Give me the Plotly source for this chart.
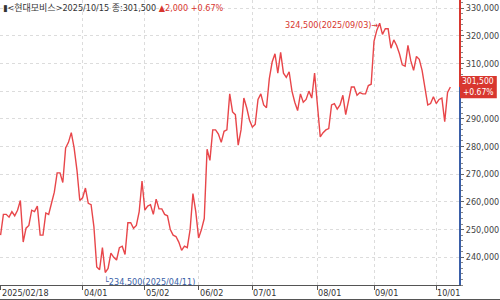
import pandas as pd
import plotly.graph_objects as go

# ---- data ----
holidays = ["2025-03-03", "2025-05-01", "2025-05-05", "2025-05-06", "2025-06-03",
            "2025-06-06", "2025-08-15", "2025-10-03", "2025-10-06", "2025-10-07",
            "2025-10-08", "2025-10-09"]
dates = [d.strftime("%Y-%m-%d") for d in pd.bdate_range("2025-02-18", "2025-10-15")
         if d.strftime("%Y-%m-%d") not in holidays]

close = [
    248000, 255500, 255500, 254500, 256500, 255000, 257000, 260500, 245500, 250500,
    251500, 257000, 256500, 258500, 248000, 248000, 256000, 255500, 259500, 263500,
    270500, 270500, 267000, 279500, 281500, 285000, 279500, 271500, 260500, 261500,
    265000, 259500, 259000, 251000, 236500, 235500, 243500, 234500, 236000, 241500,
    240000, 239000, 243500, 244000, 241000, 252500, 252500, 250500, 251500, 256500,
    267500, 257000, 258500, 259000, 255500, 261000, 257500, 257500, 255500, 255000,
    250000, 248000, 247500, 245500, 242500, 244000, 243500, 250000, 263000, 256500,
    247000, 250000, 254000, 279000, 275000, 286000, 286000, 284500, 281500, 285500,
    286000, 299000, 292500, 291500, 280500, 286000, 297500, 294000, 289500, 287000,
    288000, 297000, 299000, 295000, 294000, 304500, 310500, 313500, 306500, 314000,
    306500, 305000, 307000, 300000, 296000, 293000, 299000, 296000, 297000, 300000,
    297500, 306500, 295000, 283500, 285000, 286000, 286500, 295000, 295500, 293500,
    295000, 298500, 291500, 296000, 301500, 301500, 298500, 299500, 299000, 299000,
    302000, 302500, 318000, 322000, 324500, 320500, 322500, 322500, 315500, 318500,
    316500, 313500, 309500, 309000, 316500, 311000, 307500, 312500, 311500, 307500,
    300500, 295000, 295500, 298000, 295500, 297000, 297500, 289000, 299500, 301500,
]
assert len(dates) == len(close), (len(dates), len(close))

x_tick_dates = ["2025-02-18", "2025-04-01", "2025-05-02", "2025-06-02",
                "2025-07-01", "2025-08-01", "2025-09-01", "2025-10-01"]
x_tick_text = ["2025/02/18", "04/01", "05/02", "06/02", "07/01", "08/01", "09/01", "10/01"]
y_ticks = [240000, 250000, 260000, 270000, 280000, 290000, 300000, 310000, 320000, 330000]
# the 300,000 label sits under the last-price box in the reference, so it is not shown
y_tick_text = ["240,000", "250,000", "260,000", "270,000", "280,000", "290,000", "",
               "310,000", "320,000", "330,000"]

title_name = "▮<현대모비스>2025/10/15 종:301,500"
title_change = "▲2,000 +0.67%"
last_change_pct = "+0.67%"

# ---- styles ----
LINE = "#e8464a"
RED = "#d8372f"
BLUE = "#3a5fa8"
NUMFONT = "DejaVu Sans Condensed, Noto Sans CJK KR, sans-serif"

i_max = max(range(len(close)), key=lambda i: close[i])
i_min = min(range(len(close)), key=lambda i: close[i])
last = close[-1]

fig = go.Figure()
fig.add_trace(go.Scatter(x=dates, y=close, mode="lines",
                         line=dict(color=LINE, width=1.4), hoverinfo="skip"))

fig.update_layout(
    width=500, height=300,
    margin=dict(l=0, r=40, t=0, b=15),
    paper_bgcolor="white", plot_bgcolor="white",
    showlegend=False,
    font=dict(family=NUMFONT, size=9, color="#444"),
    xaxis=dict(type="category", range=[-0.2, len(close) + 2.4],
               tickvals=x_tick_dates, ticktext=[""] * len(x_tick_dates),
               showticklabels=False, ticks="outside", ticklen=4, tickcolor="#555",
               showgrid=True, gridcolor="#dcdcdc", griddash="dot", gridwidth=1,
               showline=True, linecolor="#555", linewidth=1, mirror=True,
               zeroline=False),
    yaxis=dict(side="right", range=[230000, 332900], tickvals=y_ticks,
               ticktext=y_tick_text, ticks="outside", ticklen=3, tickcolor="#666",
               minor=dict(dtick=2000, ticks="outside", ticklen=2, tickcolor="#888"),
               showgrid=True, gridcolor="#dcdcdc", griddash="dot", gridwidth=1,
               showline=True, linecolor="#555", linewidth=1, mirror=True,
               zeroline=False, tickfont=dict(size=9, color="#444")),
)

# right axis coloured red above / blue below the last price
fig.add_shape(type="line", xref="paper", yref="y", x0=1, x1=1, y0=last, y1=332900,
              line=dict(color=RED, width=2))
fig.add_shape(type="line", xref="paper", yref="y", x0=1, x1=1, y0=230000, y1=last,
              line=dict(color=BLUE, width=2))
# last price box
fig.add_shape(type="rect", xref="paper", yref="y", x0=1.0, x1=1.08,
              y0=last - 4100, y1=last + 4000, line=dict(width=0), fillcolor=RED)
fig.add_annotation(xref="paper", yref="y", x=1.04, y=last, xanchor="center",
                   yanchor="middle", text=f"{last:,}<br>{last_change_pct}",
                   showarrow=False, borderpad=0, align="right",
                   font=dict(family=NUMFONT, size=8.5, color="white"))

# x tick labels, left aligned to the ticks
for d, t in zip(x_tick_dates, x_tick_text):
    fig.add_annotation(x=d, xref="x", yref="paper", y=0, yshift=-1, xanchor="left",
                       yanchor="top", text=t, showarrow=False, xshift=-1,
                       font=dict(family=NUMFONT, size=9, color="#333"))

# bottom frame line
fig.add_shape(type="line", xref="paper", yref="paper", x0=0, x1=1.1,
              y0=-14.5 / 285, y1=-14.5 / 285, line=dict(color="#555", width=1))

# max / min annotations
mx = close[i_max]
d_max = dates[i_max].replace("-", "/")
fig.add_annotation(x=dates[i_max], y=mx, xanchor="right", yanchor="middle", xshift=0,
                   yshift=-2, text=f"{mx:,}({d_max})→", showarrow=False,
                   font=dict(family=NUMFONT, size=9, color=RED))
mn = close[i_min]
d_min = dates[i_min].replace("-", "/")
fig.add_annotation(x=dates[i_min], y=mn, xanchor="left", yanchor="top", xshift=-3,
                   yshift=-1, text=f"└{mn:,}({d_min})", showarrow=False,
                   font=dict(family=NUMFONT, size=9, color=BLUE))

# header
fig.add_annotation(xref="paper", yref="paper", x=0, y=1, xanchor="left", yanchor="top",
                   xshift=1, yshift=-1, showarrow=False,
                   text=f"{title_name} <span style='color:{RED}'>{title_change}</span>",
                   font=dict(family=NUMFONT, size=9, color="#333"))

fig.write_html("out.html")
